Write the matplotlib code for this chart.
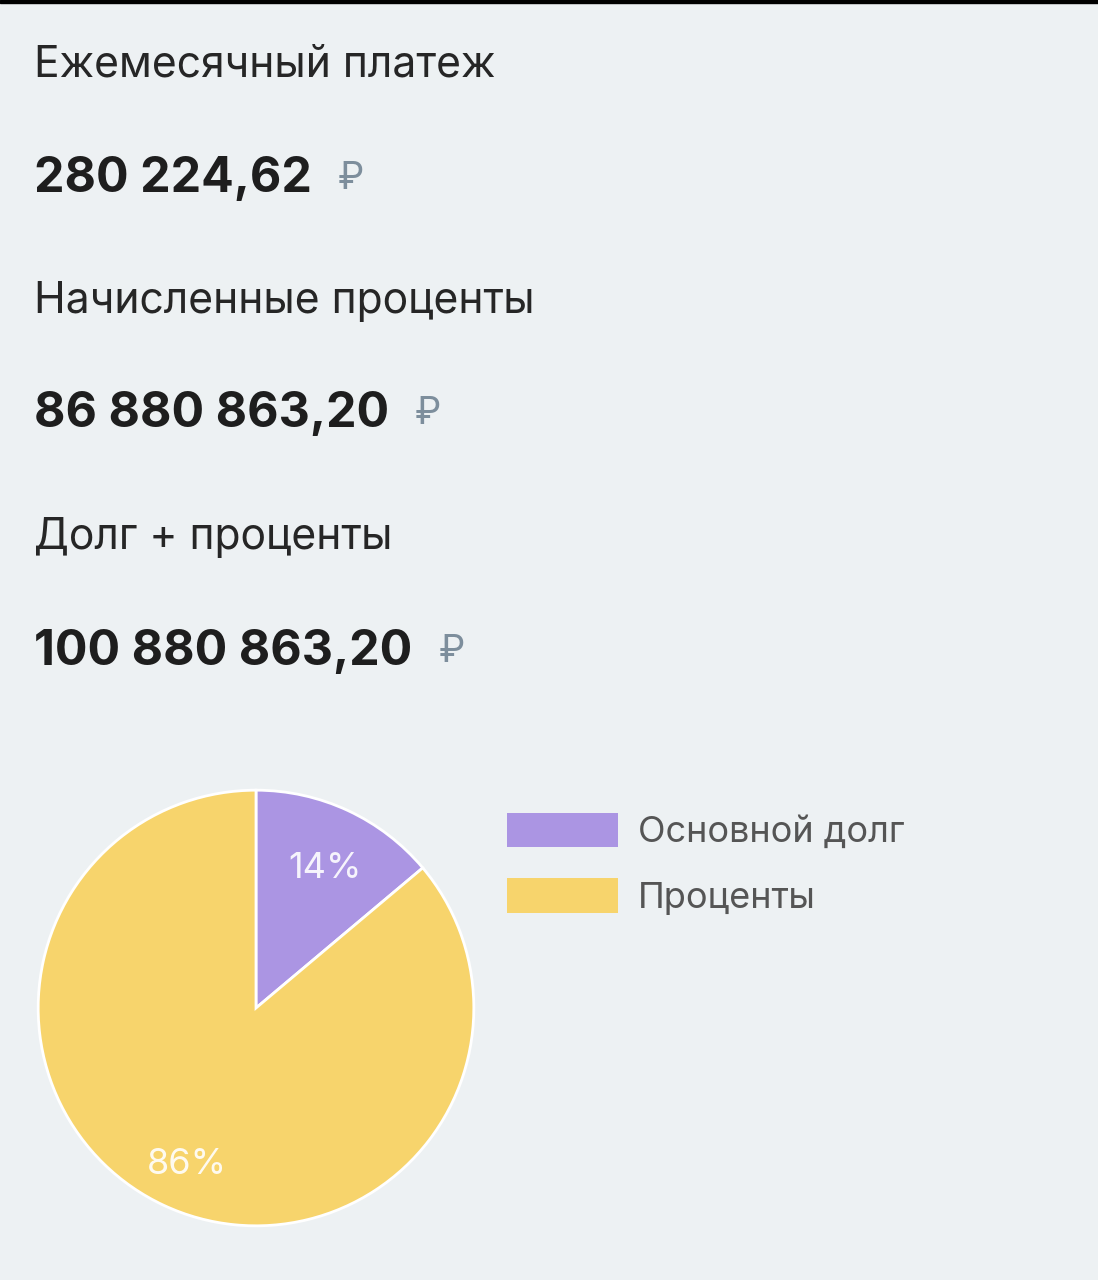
import matplotlib
matplotlib.use('Agg')
import matplotlib.pyplot as plt

# data
row_labels = ['Ежемесячный платеж', 'Начисленные проценты', 'Долг + проценты']
row_values = ['280 224,62', '86 880 863,20', '100 880 863,20']
pie_labels = ['Основной долг', 'Проценты']
pie_values = [14000000.00, 86880863.20]
pie_colors = ['#ab95e3', '#f7d46c']

bg = '#edf1f3'
W, H = 1098, 1280
fig = plt.figure(figsize=(W / 100, H / 100), dpi=100, facecolor=bg)
plt.rcParams['font.family'] = ['Inter', 'DejaVu Sans']


def fx(px):
    return px / W


def fy(py):
    return 1 - py / H


# thin black line on top edge
fig.patches.append(plt.Rectangle((0, fy(3)), 1, fy(0) - fy(3), transform=fig.transFigure,
                                 color='black', zorder=5))

label_y = [65, 301, 538]
value_y = [179, 414, 652]
for lab, val, ly, vy in zip(row_labels, row_values, label_y, value_y):
    fig.text(fx(34), fy(ly), lab, fontsize=30.7, color='#262626', va='center', ha='left')
    t = fig.text(fx(34), fy(vy), val, fontsize=34.8, fontweight='bold', color='#1e1e1e',
                 va='center', ha='left')
    fig.canvas.draw()
    bb = t.get_window_extent()
    fig.text((bb.x1 + 26) / W, fy(vy), '₽', fontsize=27, color='#7d8e9c',
             va='center', ha='left')

# pie
r = 220
cx, cy = 256, 1008
ax = fig.add_axes([fx(cx - r), fy(cy + r), 2 * r / W, 2 * r / H])
ax.set_facecolor(bg)
wedges, texts, autotexts = ax.pie(pie_values, colors=pie_colors, startangle=90, counterclock=False,
                                  autopct='%1.0f%%', pctdistance=0.75, radius=1,
                                  wedgeprops=dict(edgecolor='white', linewidth=2),
                                  textprops=dict(color='white', fontsize=26, alpha=0.9))
for at in autotexts:
    x, y = at.get_position()
    at.set_position((x, y - 0.04))
ax.set_xlim(-1.01, 1.01)
ax.set_ylim(-1.01, 1.01)
ax.axis('off')

leg = fig.legend(wedges, pie_labels, loc='upper left', bbox_to_anchor=(fx(474), fy(780)),
                 frameon=False, fontsize=26, handlelength=3.1, handleheight=1.1,
                 handletextpad=0.55, labelspacing=0.8, labelcolor='#555555')
for h in leg.legend_handles:
    h.set_edgecolor('none')

fig.savefig('out.png', dpi=100, facecolor=bg)
